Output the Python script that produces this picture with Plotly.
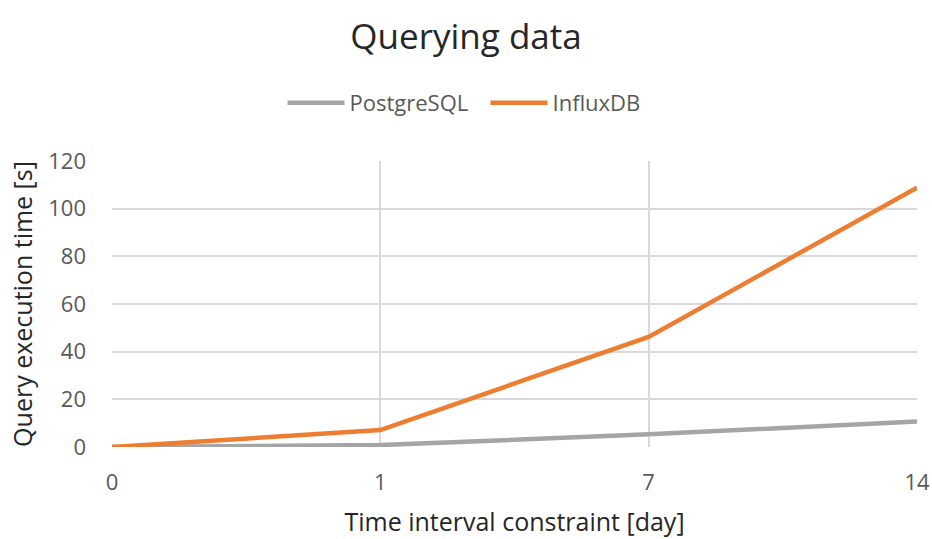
import plotly.graph_objects as go

categories = ["0", "1", "7", "14"]
postgres = [0, 0.8, 5.3, 10.7]
influx = [0, 7.1, 46.2, 108.8]
y_ticks = [0, 20, 40, 60, 80, 100, 120]

xpos = list(range(len(categories)))
font_family = "Open Sans, Liberation Sans, sans-serif"
text_color = "#595959"
title_color = "#262626"
grid_color = "#d9d9d9"

fig = go.Figure()
fig.add_trace(go.Scatter(x=xpos, y=postgres, mode="lines", name="PostgreSQL",
                         line=dict(color="#a5a5a5", width=4.5)))
fig.add_trace(go.Scatter(x=xpos, y=influx, mode="lines", name="InfluxDB",
                         line=dict(color="#ed7d31", width=4.5)))

fig.update_layout(
    width=932, height=539,
    margin=dict(l=112, r=15, t=161, b=92, autoexpand=False),
    paper_bgcolor="white", plot_bgcolor="white",
    font=dict(family=font_family, color=text_color, size=22),
    title=dict(text="Querying data", x=0.5, xanchor="center", y=1 - 37 / 539, yanchor="middle",
               font=dict(size=35, color=title_color, family=font_family)),
    legend=dict(orientation="h", x=0.5 - 29 / 805, xanchor="center", y=(447 - 103) / 286, yanchor="middle",
                font=dict(size=22, color=text_color), itemwidth=57,
                entrywidth=131, entrywidthmode="pixels"),
    showlegend=True,
)
fig.update_xaxes(
    range=[0, 3], tickvals=xpos, ticktext=categories,
    showgrid=True, gridcolor=grid_color, gridwidth=1.5,
    zeroline=False, showline=False, ticks="", ticklabelstandoff=20, automargin=False,
    title=dict(text="Time interval constraint [day]", font=dict(size=25, color=title_color), standoff=18),
    tickfont=dict(size=22, color=text_color),
)
fig.update_yaxes(
    range=[0, 120], tickvals=y_ticks,
    showgrid=True, gridcolor=grid_color, gridwidth=1.5,
    zeroline=False, showline=False, ticks="", ticklabelstandoff=25, automargin=False,
    title=dict(text="Query execution time [s]", font=dict(size=25, color=title_color), standoff=8),
    tickfont=dict(size=22, color=text_color),
)

fig.write_html("out.html", config={"displayModeBar": False},
               post_script="document.body.style.margin='0';")
